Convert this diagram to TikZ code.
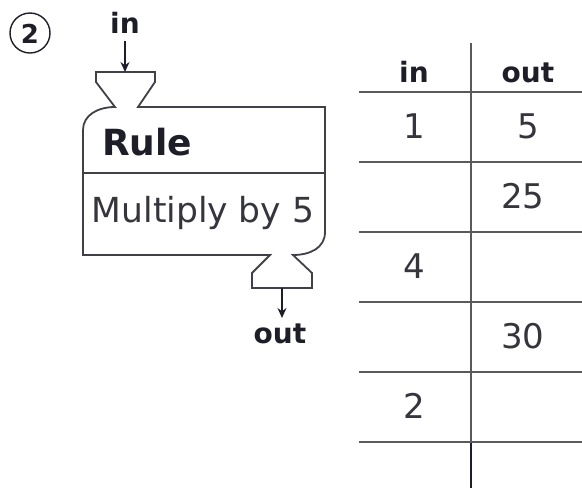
\documentclass[tikz,border=0pt]{standalone}
\usepackage{fontspec}
\setmainfont{DejaVu Sans}
\usetikzlibrary{arrows.meta}
\definecolor{ink}{HTML}{1E1E28}
\definecolor{rule}{HTML}{5A5A5A}
\tikzset{
  machine/.style={draw=ink!85, line width=1.8pt, line join=miter},
  tline/.style={draw=rule, line width=2.6pt},
  arr/.style={draw=ink, line width=1.4pt, -{Stealth[length=10pt,width=9pt]}},
  lbl/.style={text=ink, inner sep=0pt, anchor=base, font=\fontsize{28}{32}\selectfont\bfseries},
  num/.style={text=ink!90, inner sep=0pt, anchor=base, font=\fontsize{34}{38}\selectfont},
}
\begin{document}
\begin{tikzpicture}[x=1pt,y=-1pt]
\useasboundingbox (0,0) rectangle (582,491);
% circled number
\node[draw=ink, line width=1.4pt, circle, minimum size=40pt, inner sep=0pt] (c2) at (30,33) {};
\node[lbl, font=\fontsize{26}{30}\selectfont\bfseries] (c2t) at (30,43) {2};
% machine
\path[machine] (96,72) -- (155,72) -- (155,82) -- (138,107) -- (325,107) -- (325,232)
  .. controls (325,248) and (310,255) .. (293,255) -- (312,273) -- (312,288) -- (252,288)
  -- (252,273) -- (270,255) -- (83,255) -- (83,130)
  .. controls (83,115) and (98,107) .. (115,107) -- (96,82) -- cycle;
\coordinate (dl) at (83,173);
\coordinate (dr) at (325,173);
\path[machine] (dl) -- (dr);
\node[lbl, anchor=base west, font=\fontsize{36}{40}\selectfont\bfseries] (rule) at (102,155) {Rule};
\node[num, font=\fontsize{34.5}{38}\selectfont] (mult) at (203,222) {Multiply by 5};
% in / out
\node[lbl] (inl) at (125,33) {in};
\coordinate (ina) at (125,41);
\coordinate (inb) at (125,72);
\draw[arr] (ina) -- (inb);
\node[lbl] (outl) at (280,343) {out};
\coordinate (outa) at (282,288);
\coordinate (outb) at (282,318);
\draw[arr] (outa) -- (outb);
% table
\coordinate (vt) at (471,43);
\coordinate (vb) at (471,442);
\coordinate (ve) at (471,488);
\path[tline] (vt) -- (vb);
\draw[ink, line width=1.3pt] (vb) -- (ve);
\foreach \y in {92,162,232,302,372,442} {
  \path[tline] (359,\y) -- (582,\y);
}
\node[lbl] (hin) at (414,82) {in};
\node[lbl] (hout) at (528,82) {out};
\node[num] (r1a) at (414,138) {1};
\node[num] (r1b) at (528,138) {5};
\node[num] (r2b) at (523,208) {25};
\node[num] (r3a) at (414,278) {4};
\node[num] (r4b) at (523,348) {30};
\node[num] (r5a) at (414,418) {2};
\end{tikzpicture}
\end{document}
